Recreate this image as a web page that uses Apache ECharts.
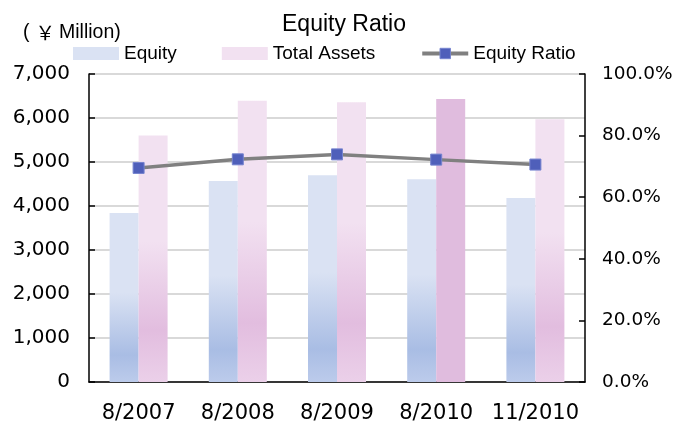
<!DOCTYPE html>
<html>
<head>
<meta charset="utf-8">
<script src="https://cdn.jsdelivr.net/npm/echarts@6/dist/echarts.min.js"></script>
<style>
html,body{margin:0;padding:0;background:#fff;}
#chart{width:677px;height:427px;}
</style>
</head>
<body>
<div id="chart"></div>
<script>
var categories = ['8/2007', '8/2008', '8/2009', '8/2010', '11/2010'];
var equity = [3840, 4570, 4700, 4610, 4180];
var totalAssets = [5600, 6390, 6360, 6430, 5970];
var equityRatio = [69.5, 72.3, 73.9, 72.2, 70.6];
var leftTicks = { min: 0, max: 7000, interval: 1000 };
var rightTicks = { min: 0, max: 100, interval: 20 };

var equityGrad = new echarts.graphic.LinearGradient(0, 0, 0, 1, [
  { offset: 0, color: '#dae2f3' },
  { offset: 0.47, color: '#dae2f3' },
  { offset: 0.84, color: '#a9bde4' },
  { offset: 1, color: '#bccbeb' }
]);
var assetsGrad = new echarts.graphic.LinearGradient(0, 0, 0, 1, [
  { offset: 0, color: '#f2e1f1' },
  { offset: 0.43, color: '#f2e1f1' },
  { offset: 0.79, color: '#e2bddf' },
  { offset: 1, color: '#ebd0e9' }
]);

var assetsData = totalAssets.map(function (v, i) {
  if (categories[i] === '8/2010') {
    return { value: v, itemStyle: { color: '#e0bcde' } };
  }
  return v;
});

var chart = echarts.init(document.getElementById('chart'));
function axisFont(size) { return { fontFamily: 'DejaVu Sans', fontSize: size, color: '#000' }; }
chart.setOption({
  animation: false,
  backgroundColor: '#fff',
  title: {
    text: 'Equity Ratio',
    left: 277,
    top: 8,
    textStyle: { fontFamily: 'Liberation Sans', fontSize: 23, fontWeight: 'normal', color: '#000' }
  },
  graphic: [{
    type: 'text',
    left: 23,
    top: 23,
    style: {
      text: '{a|(}{b|￥}{a|Million)}',
      rich: {
        a: { fontFamily: 'Liberation Sans', fontSize: 19.5, fill: '#000' },
        b: { fontFamily: 'Noto Sans CJK JP', fontSize: 19.5, fill: '#000', padding: [0, 4, 0, 6] }
      }
    }
  }],
  legend: {
    left: 68,
    top: 39,
    itemWidth: 46,
    itemHeight: 13,
    itemGap: 45,
    textStyle: { fontFamily: 'Liberation Sans', fontSize: 19, color: '#000' },
    data: [
      { name: 'Equity', icon: 'rect', itemStyle: { color: '#dae2f3' } },
      { name: 'Total Assets', icon: 'rect', itemStyle: { color: '#f2e1f1' } },
      { name: 'Equity Ratio', lineStyle: { width: 4, color: '#808080' }, itemStyle: { color: '#4f5fba', borderColor: '#7583cf', borderWidth: 1 } }
    ]
  },
  grid: { left: 89, right: 92, top: 74, bottom: 45, containLabel: false },
  xAxis: {
    type: 'category',
    data: categories,
    axisLine: { lineStyle: { color: '#000', width: 1.5 } },
    axisTick: { inside: true, length: 5, lineStyle: { color: '#000', width: 1.5 } },
    axisLabel: Object.assign({ margin: 21, interval: 0, hideOverlap: false }, axisFont(21))
  },
  yAxis: [{
    type: 'value',
    min: leftTicks.min, max: leftTicks.max, interval: leftTicks.interval,
    axisLine: { show: true, lineStyle: { color: '#000', width: 1.5 } },
    axisTick: { show: true, inside: true, length: 6, lineStyle: { color: '#000', width: 1.5 } },
    splitLine: { show: true, lineStyle: { color: '#d9d9d9', width: 2 } },
    axisLabel: Object.assign({ margin: 19, formatter: function (v) { return v.toLocaleString('en-US'); } }, axisFont(20))
  }, {
    type: 'value',
    position: 'right',
    min: rightTicks.min, max: rightTicks.max, interval: rightTicks.interval,
    axisLine: { show: true, lineStyle: { color: '#000', width: 1.5 } },
    axisTick: { show: true, inside: true, length: 6, lineStyle: { color: '#000', width: 1.5 } },
    splitLine: { show: false },
    axisLabel: Object.assign({ margin: 17, formatter: function (v) { return v.toFixed(1) + '%'; } }, axisFont(18.5))
  }],
  series: [{
    name: 'Equity',
    type: 'bar',
    barWidth: 29,
    barGap: '0%',
    data: equity,
    itemStyle: { color: equityGrad }
  }, {
    name: 'Total Assets',
    type: 'bar',
    barWidth: 29,
    barGap: '0%',
    data: assetsData,
    itemStyle: { color: assetsGrad }
  }, {
    name: 'Equity Ratio',
    type: 'line',
    yAxisIndex: 1,
    data: equityRatio,
    symbol: 'rect',
    symbolSize: 11,
    lineStyle: { color: '#808080', width: 3.5 },
    itemStyle: { color: '#4f5fba', borderColor: '#7583cf', borderWidth: 1 },
    z: 5
  }]
});
</script>
</body>
</html>
